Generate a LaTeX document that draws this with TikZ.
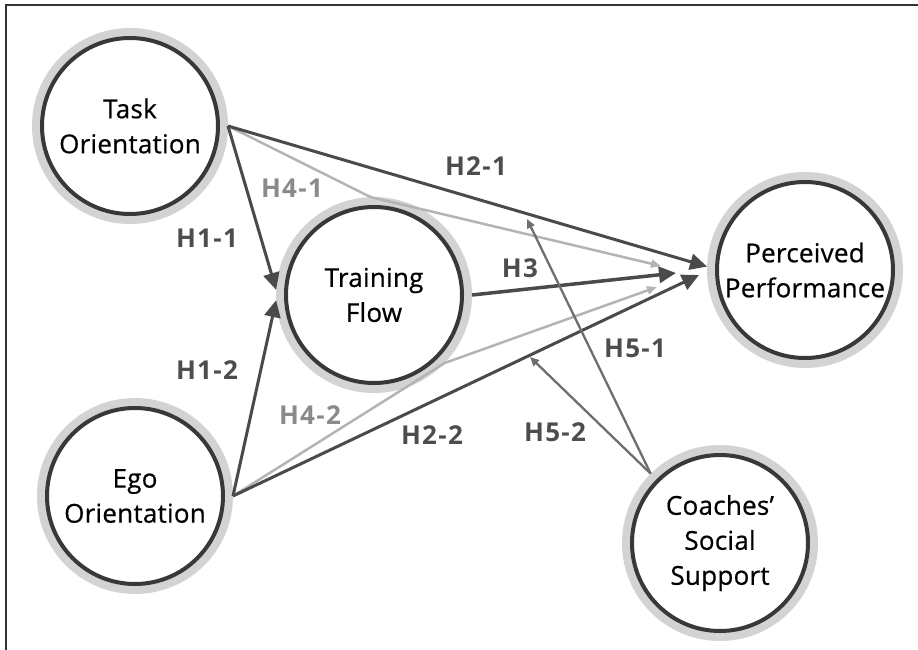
\documentclass[tikz,border=0pt]{standalone}
\usepackage{fontspec}
\setmainfont{Open Sans}
\usetikzlibrary{arrows.meta}
\definecolor{ringgray}{HTML}{D3D3D3}
\definecolor{circdark}{HTML}{383838}
\definecolor{arrdark}{HTML}{4A4A4A}
\definecolor{arrlight}{HTML}{B4B4B4}
\definecolor{arrmid}{HTML}{6E6E6E}
\definecolor{lbldark}{HTML}{4D4D4D}
\definecolor{lbllight}{HTML}{8A8A8A}
\definecolor{framecol}{HTML}{333333}
\tikzset{
  var/.style={circle, fill=white, draw=circdark, line width=4pt,
    minimum size=176pt, inner sep=0pt, outer sep=10pt, align=center,
    font=\fontsize{26}{35}\selectfont\addfontfeatures{FakeBold=0.6,LetterSpace=1}, text=black,
    preaction={draw=ringgray, line width=20pt}},
  darkarr/.style={draw=arrdark, line width=3pt, -{Triangle[length=17pt,width=16pt]}},
  lightarr/.style={draw=arrlight, line width=2.5pt, -{Triangle[length=10pt,width=8pt]}},
  midarr/.style={draw=arrmid, line width=2.3pt, -{Triangle[length=9pt,width=8pt]}},
  lbl/.style={font=\bfseries\fontsize{26}{30}\selectfont\addfontfeatures{LetterSpace=5}, text=lbldark},
  lbllt/.style={font=\bfseries\fontsize{26}{30}\selectfont\addfontfeatures{LetterSpace=5}, text=lbllight},
  framestyle/.style={draw=framecol, line width=1.5pt}
}
\begin{document}
\begin{tikzpicture}[x=1pt,y=-1pt]
\useasboundingbox (0,0) rectangle (918,650);
\draw[framestyle] (6,650) -- (6,5) -- (918,5);

\node[var] (task) at (130,126) {Task\\Orientation};
\node[var] (ego) at (135,496) {Ego\\Orientation};
\node[var] (tf) at (374,295) {Training\\Flow};
\node[var] (pp) at (805,270) {Perceived\\Performance};
\node[var] (cs) at (720,543) {Coaches'\\Social\\Support};

\coordinate (h3tip) at (676,273);
\coordinate (h22tip) at (699,275);
\coordinate (h41tip) at (661,266);
\coordinate (h42tip) at (657,287);
\coordinate (h51tip) at (527,219);
\coordinate (h52tip) at (530,357);

% H4 (light, mediation)
\draw[lightarr] (task.east) -- (tf.92) -- (h41tip);
\draw[lightarr] (ego.east) -- (tf.-44) -- (h42tip);

% H1, H2, H3
\draw[darkarr] (task.east) -- (tf.177);
\draw[darkarr] (ego.east) -- (tf.183);
\draw[darkarr] (task.east) -- (pp.178);
\draw[darkarr] (ego.east) -- (h22tip);
\draw[darkarr, line width=3.5pt] (tf.east) -- (h3tip);

% H5 (moderation)
\draw[midarr] (cs.135) -- (h51tip);
\draw[midarr] (cs.135) -- (h52tip);

% labels
\node[lbl] (l11) at (207,238) {H1-1};
\node[lbl] (l12) at (207,370) {H1-2};
\node[lbllt] (l41) at (292,188) {H4-1};
\node[lbllt] (l42) at (310,415) {H4-2};
\node[lbl] (l21) at (476,166) {H2-1};
\node[lbl] (l22) at (432,435) {H2-2};
\node[lbl] (l3) at (520,268) {H3};
\node[lbl] (l51) at (635,348) {H5-1};
\node[lbl] (l52) at (555,432) {H5-2};
\end{tikzpicture}
\end{document}
